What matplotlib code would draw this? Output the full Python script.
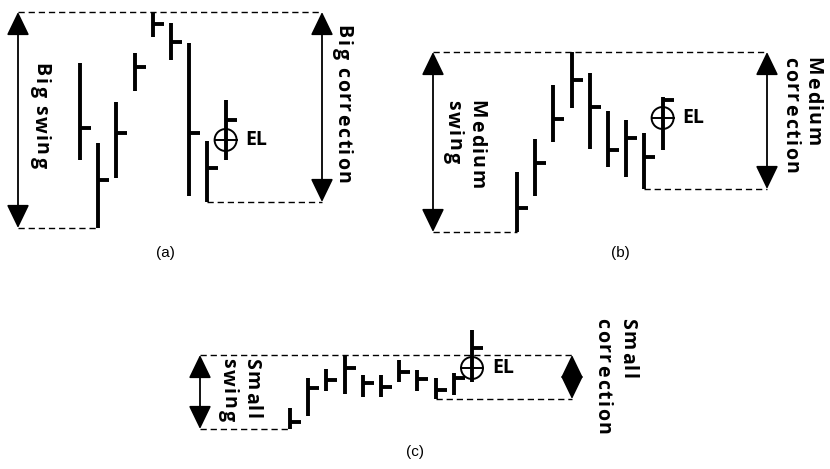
import matplotlib.pyplot as plt
from matplotlib.patches import Circle

# canvas is laid out in pixel units (y grows downward)
W, H = 830, 469
STEP = 18.2      # distance between bars
TICK = 11        # length of the close tick
LABEL_FONT = ['Open Sans', 'DejaVu Sans']

# ---- panel (a): big swing / big correction ----
a_high = [63, 143, 102, 53, 12, 23, 43, 141, 100]
a_low = [160, 228, 178, 91, 37, 60, 196, 202, 160]
a_close = [128, 180, 133, 67, 24, 42, 133, 168, 120]
a_swing = (12, 228)       # top / bottom of the swing
a_corr_low = 202          # bottom of the correction
a_entry = 140             # EL level

# ---- panel (b): medium swing / medium correction ----
b_high = [172, 139, 85, 52, 73, 111, 120, 133, 97]
b_low = [232, 196, 142, 108, 149, 167, 177, 189, 150]
b_close = [208, 163, 119, 80, 107, 150, 138, 157, 100]
b_swing = (52, 232)
b_corr_low = 189
b_entry = 118

# ---- panel (c): small swing / small correction ----
c_high = [408, 378, 369, 356, 375, 375, 360, 370, 378, 373, 330]
c_low = [429, 416, 391, 394, 397, 397, 382, 391, 399, 395, 382]
c_close = [422, 388, 380, 368, 383, 387, 372, 379, 390, 378, 348]
c_swing = (355, 429)
c_corr_low = 399
c_entry = 368

fig = plt.figure(figsize=(8.3, 4.69), dpi=100)
ax = fig.add_axes([0, 0, 1, 1])
ax.set_xlim(0, W)
ax.set_ylim(H, 0)
ax.axis('off')
renderer = fig.canvas.get_renderer()


def spaced_label(x, y, text, size=14, gap=1.8):
    # rotated text read top-to-bottom, with extra letter spacing
    for ch in text:
        if ch == ' ':
            y += size * 0.45
            continue
        t = ax.text(x, y, ch, rotation=-90, ha='center', va='top',
                    fontsize=size, family=LABEL_FONT, weight='bold')
        y += t.get_window_extent(renderer).height + gap


def panel(x0, highs, lows, closes, swing, corr_low, entry, left_x, right_x):
    xs = [x0 + i * STEP for i in range(len(highs))]
    ax.vlines(xs, highs, lows, color='k', lw=2.8)
    ax.hlines(closes, xs, [x + TICK for x in xs], color='k', lw=2.8)

    dash = dict(color='k', lw=1.0, ls=(0, (4.5, 2.8)))
    top, bottom = swing
    ax.plot([left_x, right_x], [top, top], **dash)
    ax.plot([left_x, xs[lows.index(bottom)]], [bottom, bottom], **dash)
    ax.plot([xs[lows.index(corr_low)], right_x], [corr_low, corr_low], **dash)

    arrow = dict(arrowstyle='<|-|>,head_length=1.45,head_width=0.7',
                 color='k', lw=1.3, shrinkA=0, shrinkB=0)
    ax.annotate('', xy=(left_x, top), xytext=(left_x, bottom), arrowprops=arrow)
    ax.annotate('', xy=(right_x, top), xytext=(right_x, corr_low), arrowprops=arrow)

    # entry marker on the last bar
    ex = xs[-1]
    ax.add_patch(Circle((ex, entry), 11, fill=False, ec='k', lw=1.4))
    ax.plot([ex - 11, ex + 11], [entry, entry], color='k', lw=1.4)
    ax.text(ex + 20, entry, 'EL', ha='left', va='center', fontsize=14,
            family=LABEL_FONT, weight='bold')


panel(80, a_high, a_low, a_close, a_swing, a_corr_low, a_entry, 18, 322)
panel(517, b_high, b_low, b_close, b_swing, b_corr_low, b_entry, 433, 767)
panel(290, c_high, c_low, c_close, c_swing, c_corr_low, c_entry, 200, 572)

spaced_label(40, 63, 'Big swing')
spaced_label(342, 25, 'Big correction')
spaced_label(476, 100, 'Medium')
spaced_label(453, 100, 'swing')
spaced_label(812, 57, 'Medium')
spaced_label(790, 57, 'correction')
spaced_label(251, 358, 'Small')
spaced_label(228, 358, 'swing')
spaced_label(627, 318, 'Small')
spaced_label(602, 318, 'correction')

cap = dict(ha='center', va='center', fontsize=11, family=['Liberation Sans', 'DejaVu Sans'])
ax.text(165, 253, '(a)', **cap)
ax.text(620, 253, '(b)', **cap)
ax.text(415, 452, '(c)', **cap)

fig.savefig('out.png', dpi=100)
